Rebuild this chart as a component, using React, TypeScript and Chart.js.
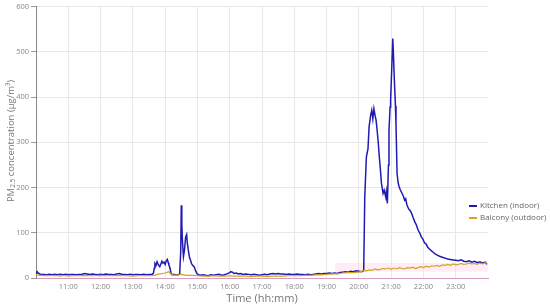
import React, { useEffect, useRef } from 'react';
import { Chart, registerables } from 'chart.js';

Chart.register(...registerables);

// ---- data ----
const kitchenTimes = [
  '10:00','10:01','10:02','10:04','10:07','10:10','10:15','10:20','10:25','10:30','10:35','10:40','10:45','10:50','10:55',
  '11:00','11:05','11:10','11:15','11:20','11:25','11:30','11:35','11:40','11:45','11:50','11:55',
  '12:00','12:05','12:10','12:15','12:20','12:25','12:30','12:35','12:40','12:45','12:50','12:55',
  '13:00','13:05','13:10','13:15','13:20','13:25','13:30','13:35','13:38','13:40','13:41','13:43','13:45','13:47','13:50','13:52','13:54','13:56','13:58',
  '14:00','14:02','14:04','14:06','14:07','14:09','14:11','14:13','14:16','14:20','14:24','14:27','14:29','14:30','14:31','14:32','14:34','14:36','14:38','14:40','14:41','14:43','14:45','14:47','14:49','14:51','14:54','14:56','14:59',
  '15:02','15:06','15:10','15:15','15:20','15:25','15:30','15:35','15:40','15:45','15:50','15:55',
  '16:00','16:02','16:05','16:08','16:12','16:16','16:20','16:25','16:30','16:35','16:40','16:45','16:50','16:55',
  '17:00','17:05','17:10','17:15','17:20','17:25','17:30','17:35','17:40','17:45','17:50','17:55',
  '18:00','18:05','18:10','18:15','18:20','18:25','18:30','18:35','18:40','18:45','18:50','18:55',
  '19:00','19:05','19:10','19:15','19:20','19:25','19:30','19:35','19:40','19:45','19:50','19:55',
  '20:00','20:05','20:09','20:11','20:14','20:17','20:19','20:22','20:24','20:26','20:28','20:30','20:32','20:34','20:36','20:38','20:40','20:42','20:45','20:47','20:50','20:51','20:53','20:55','20:56','20:58','20:59',
  '21:01','21:03','21:04','21:06','21:08','21:09','21:11','21:13','21:15','21:17','21:19','21:21','21:23','21:25','21:27','21:29','21:31','21:33','21:35','21:38','21:41','21:44','21:47','21:50','21:53','21:56','21:59',
  '22:02','22:05','22:08','22:12','22:15','22:18','22:21','22:25','22:30','22:35','22:40','22:45','22:50','22:55',
  '23:00','23:05','23:10','23:15','23:20','23:25','23:30','23:35','23:40','23:45','23:50','23:55','23:58'
];
const kitchenValues = [
  9,13,14,11,9,8,8,7,8,7,8,7,8,7,8,
  7,8,8,7,8,8,10,9,8,9,8,7,
  8,7,9,8,8,7,9,10,8,8,7,8,
  7,8,8,7,8,7,8,8,10,22,32,28,36,30,25,31,37,33,35,
  30,38,41,33,29,22,10,7,8,6,7,9,60,161,120,85,47,62,90,96,80,62,47,40,32,28,25,18,10,
  7,6,7,6,5,7,6,7,8,6,7,9,
  12,14,13,10,11,9,10,8,9,8,7,8,7,6,
  7,8,7,9,10,9,10,9,9,8,9,8,
  8,9,8,8,7,8,7,8,9,10,9,10,
  10,11,10,11,10,12,13,14,13,15,14,16,
  15,14,16,180,268,286,334,360,371,352,374,360,349,326,300,268,240,209,187,194,179,190,165,250,326,378,393,
  459,529,503,437,380,341,231,210,201,195,190,185,180,172,175,163,157,152,150,143,133,124,117,106,100,91,86,
  78,75,68,63,60,57,54,51,48,46,44,42,41,40,
  39,38,40,37,36,38,35,37,34,36,33,35,30
];

const balconyTimes = [
  '10:00','10:03','10:06','10:10','10:15','10:20','10:25','10:30','10:35','10:40','10:45','10:50','10:55',
  '11:00','11:10','11:20','11:30','11:40','11:50','12:00','12:10','12:20','12:30','12:40','12:50',
  '13:00','13:10','13:20','13:30','13:40','13:45','13:50','13:55','14:00','14:04','14:07','14:10','14:15','14:20','14:30','14:35','14:40','14:50',
  '15:00','15:10','15:20','15:30','15:40','15:50','16:00','16:10','16:20','16:30','16:40','16:50',
  '17:00','17:10','17:20','17:30','17:40','17:50','18:00','18:10','18:20','18:30','18:40','18:50',
  '19:00','19:10','19:20','19:30','19:40','19:50','20:00','20:10','20:15','20:20','20:25','20:30','20:35','20:40','20:45','20:50','20:55',
  '21:00','21:05','21:10','21:15','21:20','21:25','21:30','21:35','21:40','21:45','21:50','21:55',
  '22:00','22:05','22:10','22:15','22:20','22:25','22:30','22:35','22:40','22:45','22:50','22:55',
  '23:00','23:05','23:10','23:15','23:20','23:25','23:30','23:35','23:40','23:45','23:50','23:55','23:58'
];
const balconyValues = [
  8,7,6,6,5,6,5,5,6,5,4,5,5,
  4,5,5,6,5,5,6,5,5,6,5,5,
  4,5,5,5,6,8,9,10,11,13,14,9,7,6,8,7,6,6,
  5,4,4,5,4,4,5,4,4,4,3,4,
  4,3,4,4,4,5,5,5,6,6,7,7,
  8,9,9,11,12,12,13,17,16,18,17,20,18,19,21,20,22,
  19,22,20,23,21,20,23,22,24,21,23,25,
  23,26,24,27,26,28,26,29,28,30,28,31,
  29,30,32,30,31,33,31,32,30,33,31,34,33
];

// light pink shaded band (outdoor range)
const bandTimes = ['19:15', '24:00'];
const bandLow = [14, 14];
const bandHigh = [33, 33];

const yTicks = [0, 100, 200, 300, 400, 500, 600];
const xTickLabels = ['11:00','12:00','13:00','14:00','15:00','16:00','17:00','18:00','19:00','20:00','21:00','22:00','23:00'];

const seriesLabels = ['Kitchen (indoor)', 'Balcony (outdoor)'];
const FONT = '"Open Sans", "Noto Sans", sans-serif';

const toMin = (s: string) => {
  const [h, m] = s.split(':').map(Number);
  return (h - 10) * 60 + m;
};
const pts = (times: string[], vals: number[]) => times.map((t, i) => ({ x: toMin(t), y: vals[i] }));

export default function App() {
  const ref = useRef<HTMLCanvasElement | null>(null);

  useEffect(() => {
    document.body.style.margin = '0';
    const canvas = ref.current;
    if (!canvas) return;

    const yTitlePlugin = {
      id: 'yTitleSub',
      afterDraw(chart: any) {
        const { ctx } = chart;
        ctx.save();
        ctx.translate(11, 141);
        ctx.rotate(-Math.PI / 2);
        ctx.fillStyle = '#777';
        ctx.textBaseline = 'middle';
        ctx.textAlign = 'left';
        const big = `9.5px ${FONT}`;
        const small = `6.5px ${FONT}`;
        const a = 'PM', b = '2.5', c = ' concentration (μg/m³)';
        ctx.font = big; const wa = ctx.measureText(a).width; const wc = ctx.measureText(c).width;
        ctx.font = small; const wb = ctx.measureText(b).width;
        let x = -(wa + wb + wc) / 2;
        ctx.font = big; ctx.fillText(a, x, 0); x += wa;
        ctx.font = small; ctx.fillText(b, x, 2.5); x += wb;
        ctx.font = big; ctx.fillText(c, x, 0);
        ctx.restore();
      },
    };

    const legendPlugin = {
      id: 'customLegend',
      afterDraw(chart: any) {
        const { ctx } = chart;
        ctx.save();
        ctx.font = `8px ${FONT}`;
        ctx.textBaseline = 'middle';
        ctx.textAlign = 'left';
        seriesLabels.forEach((lab, i) => {
          const ds = chart.data.datasets.find((d: any) => d.label === lab);
          if (!ds) return;
          const y = 206 + i * 12;
          ctx.strokeStyle = ds.borderColor;
          ctx.lineWidth = 2;
          ctx.beginPath();
          ctx.moveTo(469, y);
          ctx.lineTo(477, y);
          ctx.stroke();
          ctx.fillStyle = '#666';
          ctx.fillText(lab, 480, y);
        });
        ctx.restore();
      },
    };

    const chart = new Chart(canvas, {
      type: 'line',
      data: {
        datasets: [
          {
            label: seriesLabels[1],
            data: pts(balconyTimes, balconyValues),
            borderColor: '#d1a521',
            borderWidth: 1.2,
            pointRadius: 0,
            tension: 0,
            fill: false,
          },
          {
            label: seriesLabels[0],
            data: pts(kitchenTimes, kitchenValues),
            borderColor: '#1f1ab0',
            borderWidth: 1.5,
            pointRadius: 0,
            tension: 0,
            fill: false,
          },
          {
            label: 'bandLow',
            data: pts(bandTimes, bandLow),
            borderColor: 'rgba(0,0,0,0)',
            borderWidth: 0,
            pointRadius: 0,
            fill: false,
          },
          {
            label: 'bandHigh',
            data: pts(bandTimes, bandHigh),
            borderColor: 'rgba(0,0,0,0)',
            borderWidth: 0,
            pointRadius: 0,
            fill: '-1',
            backgroundColor: 'rgba(255,200,225,0.35)',
          },
        ],
      },
      options: {
        responsive: false,
        animation: false,
        events: [],
        layout: { padding: { top: 6, right: 62, left: 0, bottom: 0 } },
        plugins: {
          legend: { display: false },
          tooltip: { enabled: false },
        },
        scales: {
          x: {
            type: 'linear',
            min: 0,
            max: 840,
            afterFit: (s: any) => { s.height = 29; },
            afterBuildTicks: (s: any) => {
              const t = [];
              for (let v = 0; v <= 840; v += 60) t.push({ value: v });
              s.ticks = t;
            },
            ticks: {
              autoSkip: false,
              maxRotation: 0,
              padding: 4,
              color: '#888',
              font: { family: FONT, size: 7.5 },
              callback: (v: any) => {
                const i = Math.round(Number(v) / 60) - 1;
                return xTickLabels[i] ?? '';
              },
            },
            grid: {
              color: (c: any) => (c.tick && c.tick.value === 840 ? 'rgba(0,0,0,0)' : '#e8e8e8'),
              lineWidth: 1,
              drawTicks: false,
            },
            border: { color: '#d79ac0', width: 1 },
            title: {
              display: true,
              text: 'Time (hh:mm)',
              color: '#777',
              font: { family: FONT, size: 11 },
              padding: { top: 0, bottom: 2 },
            },
          },
          y: {
            min: 0,
            max: 600,
            afterFit: (s: any) => { s.width = 36; },
            afterBuildTicks: (s: any) => { s.ticks = yTicks.map((v) => ({ value: v })); },
            ticks: {
              padding: 2,
              color: '#888',
              font: { family: FONT, size: 7.5 },
            },
            grid: { color: '#e8e8e8', lineWidth: 1, tickLength: 5, tickColor: '#999' },
            border: { color: '#888', width: 1 },
          },
        },
      },
      plugins: [yTitlePlugin, legendPlugin],
    } as any);

    return () => chart.destroy();
  }, []);

  return (
    <div style={{ width: 550, height: 307 }}>
      <canvas ref={ref} width={550} height={307} style={{ display: 'block' }} />
    </div>
  );
}
